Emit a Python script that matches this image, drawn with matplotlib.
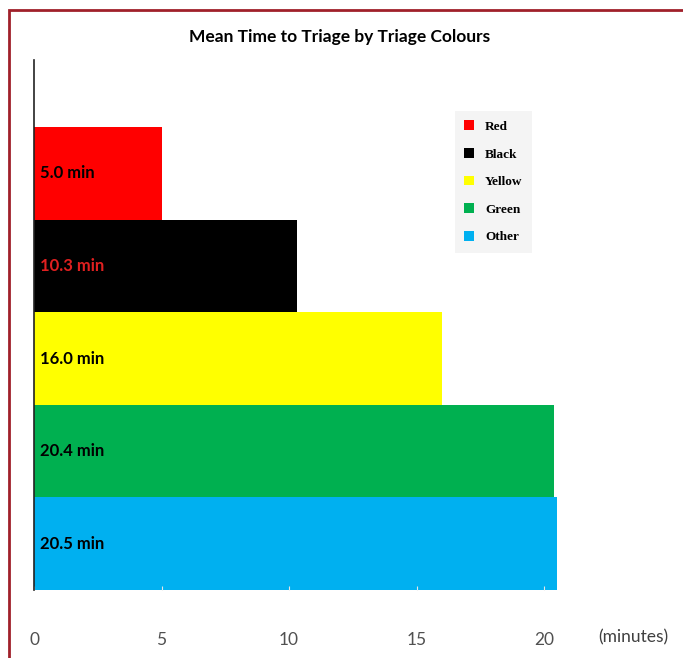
import matplotlib.pyplot as plt
from matplotlib.patches import Rectangle, Patch

# data
categories = ['Red', 'Black', 'Yellow', 'Green', 'Other']
minutes = [5.0, 10.3, 16.0, 20.4, 20.5]
colours = ['#ff0000', '#000000', '#ffff00', '#00b050', '#00b0f0']
label_colours = ['black', '#e02020', 'black', 'black', 'black']
xticks = [0, 5, 10, 15, 20]

W, H = 683, 658
fig = plt.figure(figsize=(W / 100, H / 100), dpi=100)

# axes placed in pixels: x 34..600, y 60..590 (top-down)
left, right, top, bottom = 34, 600, 60, 590
ax = fig.add_axes([left / W, 1 - bottom / H, (right - left) / W, (bottom - top) / H])

px_per_min = 25.5
bar_px = 92.6
n = len(categories)
pos = [n - 1 - i for i in range(n)]  # Red on top

ax.barh(pos, minutes, height=1.0, color=colours, edgecolor='none')
ax.set_xlim(0, (right - left) / px_per_min)
ax.set_ylim(-0.5, (bottom - top) / bar_px - 0.5)

for p, v, c in zip(pos, minutes, label_colours):
    ax.text(0.25, p, '%.1f min' % v, ha='left', va='center',
            fontsize=12, fontweight='bold', family='Lato', color=c)

ax.set_xticks(xticks)
ax.set_xticklabels([str(t) for t in xticks], family='Lato', fontsize=12.5, color='#505050')
ax.tick_params(axis='x', length=3, color='#e6e6e6', pad=30, direction='in')
ax.set_yticks([])
for s in ['top', 'right', 'bottom']:
    ax.spines[s].set_visible(False)
ax.spines['left'].set_color('#222222')
ax.spines['left'].set_linewidth(1.2)

fig.text(598 / W, 1 - 637 / H, '(minutes)', family='Lato', fontsize=12.5,
         color='#404040', ha='left', va='center')

fig.text(340 / W, 1 - 37 / H, 'Mean Time to Triage by Triage Colours',
         family='Lato', fontsize=12.5, fontweight='bold', ha='center', va='center')

handles = [Patch(facecolor=c, edgecolor='none') for c in colours]
leg = fig.legend(handles, categories, loc='upper left',
                 bbox_to_anchor=(448 / W, 1 - 104 / H),
                 prop={'family': 'Liberation Serif', 'weight': 'bold', 'size': 9.5},
                 frameon=True, facecolor='#f4f4f4', edgecolor='none', fancybox=False,
                 handlelength=0.75, handleheight=0.75, handletextpad=0.8,
                 labelspacing=1.15, borderpad=0.75)
leg.get_frame().set_alpha(1)

# dark red frame around the picture
fig.patches.append(Rectangle((9 / W, -0.1), 1.2, 1 - 10 / H + 0.1,
                             transform=fig.transFigure, fill=False,
                             edgecolor='#a0202a', linewidth=2))

plt.savefig('out.png', dpi=100)
